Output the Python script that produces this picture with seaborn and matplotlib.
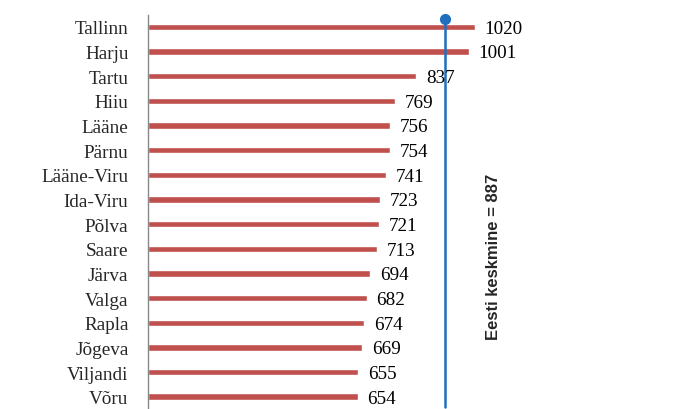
"""Horizontal bar chart of county values with the Estonian average marked."""

import matplotlib

matplotlib.use("Agg")
import matplotlib.pyplot as plt
import pandas as pd
import seaborn as sns

counties = [
    "Tallinn", "Harju", "Tartu", "Hiiu", "Lääne", "Pärnu", "Lääne-Viru",
    "Ida-Viru", "Põlva", "Saare", "Järva", "Valga", "Rapla", "Jõgeva",
    "Viljandi", "Võru",
]
values = [1020, 1001, 837, 769, 756, 754, 741, 723, 721, 713, 694, 682,
          674, 669, 655, 654]
average_label = "Eesti keskmine = 887"
average_line_pos = 926  # where the line sits in the picture

bar_color = "#C0504D"
line_color = "#1F6FBF"

sns.set_style("white")
plt.rcParams["font.family"] = ["Liberation Serif", "DejaVu Serif"]

data = pd.DataFrame({"county": counties, "value": values})

fig = plt.figure(figsize=(6.85, 4.10), dpi=100)
ax = fig.add_axes([148 / 685, 0, 1 - 148 / 685, (410 - 15.6) / 410])

sns.barplot(data=data, x="value", y="county", color=bar_color,
            saturation=1, width=0.26, ax=ax)

ax.set_xlim(0, 1675)
ax.set_ylim(15.4, -0.5)

for i, v in enumerate(values):
    ax.annotate(str(v), (v, i), xytext=(7, -1), textcoords="offset points",
                ha="left", va="center", fontsize=13.8, color="black")

ax.plot([average_line_pos, average_line_pos], [-0.32, 15.4],
        color=line_color, lw=1.8, clip_on=False)
ax.plot([average_line_pos], [-0.32], "o", color=line_color, ms=7,
        clip_on=False)
ax.text(average_line_pos + 153, 9.27, average_label, rotation=90,
        ha="center", va="center", fontsize=12, fontweight="bold",
        family=["Liberation Sans", "DejaVu Sans"])

for side in ("top", "right", "bottom"):
    ax.spines[side].set_visible(False)
ax.spines["left"].set_color("#888888")
ax.spines["left"].set_linewidth(1)

ax.set_xlabel("")
ax.set_ylabel("")
ax.set_xticks([])
ax.set_yticks([i - 0.5 for i in range(len(counties) + 1)], minor=True)
ax.tick_params(axis="y", which="major", length=0, pad=14, labelsize=13.8)
ax.tick_params(axis="y", which="minor", length=4, color="#888888",
               direction="out", width=1)

fig.savefig("out.png", dpi=100)
plt.close(fig)
